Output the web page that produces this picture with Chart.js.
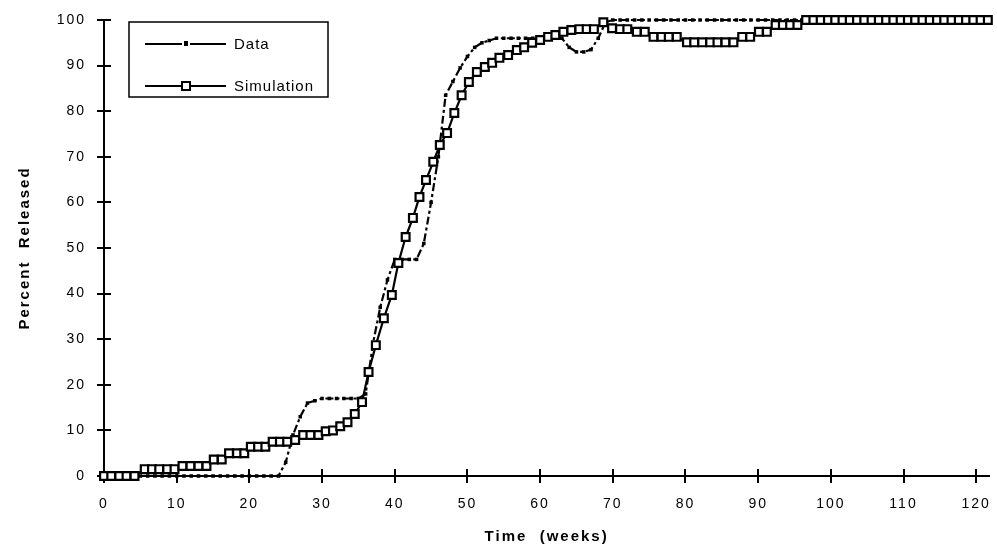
<!DOCTYPE html>
<html lang="en">
<head>
<meta charset="UTF-8">
<title>Percent Released</title>
<script src="https://cdn.jsdelivr.net/npm/chart.js"></script>
<style>
  html, body { margin: 0; padding: 0; background: #fff; }
</style>
</head>
<body>
<canvas id="myChart" width="997" height="548"></canvas>

<script>
// Simulation (squares), time in weeks / percent released
const simWeeks = [0, 1, 2.1, 3.1, 4.2, 5.6, 6.6, 7.6, 8.7, 9.7, 10.8, 11.9, 13, 14.1, 15.1, 16.2,
  17.2, 18.3, 19.3, 20.2, 21.2, 22.2, 23.2, 24.2, 25.2, 26.3, 27.4, 28.4, 29.5, 30.5, 31.5,
  32.5, 33.5, 34.5, 35.5, 36.4, 37.4, 38.5, 39.6, 40.5, 41.5, 42.5, 43.4, 44.3, 45.3, 46.2,
  47.2, 48.2, 49.2, 50.2, 51.3, 52.4, 53.4, 54.4, 55.6, 56.8, 57.8, 58.9, 60, 61.1, 62.1,
  63.2, 64.3, 65.4, 66.4, 67.4, 68.7, 69.9, 71, 72, 73.3, 74.4, 75.6, 76.7, 77.7, 78.8,
  80.2, 81.2, 82.3, 83.4, 84.4, 85.5, 86.6, 87.8, 88.9, 90.1, 91.2, 92.4, 93.4, 94.4, 95.4,
  96.6, 97.6, 98.6, 99.6, 100.6, 101.6, 102.6, 103.6, 104.6, 105.6, 106.6, 107.6, 108.6,
  109.6, 110.6, 111.6, 112.6, 113.6, 114.6, 115.6, 116.6, 117.6, 118.6, 119.6, 120.6, 121.6];
const simValues = [0, 0, 0, 0, 0, 1.5, 1.5, 1.5, 1.5, 1.5, 2.2, 2.2, 2.2, 2.2, 3.6, 3.6,
  5, 5, 5, 6.4, 6.4, 6.4, 7.5, 7.5, 7.5, 7.9, 9, 9, 9, 9.8, 10,
  10.9, 11.8, 13.6, 16.2, 22.8, 28.7, 34.6, 39.7, 46.7, 52.4, 56.6, 61.2, 64.9, 68.9, 72.6,
  75.2, 79.6, 83.5, 86.4, 88.6, 89.7, 90.6, 91.7, 92.3, 93.4, 94, 95, 95.6, 96.3, 96.7,
  97.4, 97.8, 98, 98, 98, 99.5, 98.2, 98, 98, 97.4, 97.4, 96.3, 96.3, 96.3, 96.3,
  95.1, 95.1, 95.1, 95.1, 95.1, 95.1, 95.1, 96.3, 96.3, 97.4, 97.4, 98.9, 98.9, 98.9, 98.9,
  100, 100, 100, 100, 100, 100, 100, 100, 100, 100, 100, 100, 100,
  100, 100, 100, 100, 100, 100, 100, 100, 100, 100, 100, 100, 100];

// Measured data (dash-dot line)
const dataWeeks = [0, 1, 2, 3, 4, 5, 6, 7, 8, 9, 10, 11, 12, 13, 14, 15, 16, 17, 18, 19, 20,
  21, 22, 23, 24, 25, 26, 27, 28, 29, 30, 31, 32, 33, 34, 35, 36, 37, 38, 39, 40,
  41, 42, 43, 44, 45, 46, 47, 48, 49, 50, 51, 52, 53, 54, 55, 56, 57, 58, 59, 60,
  61, 62, 63, 64, 65, 66, 67, 68, 69, 70, 71, 72, 73, 74, 75, 76, 77, 78, 79, 80,
  81, 82, 83, 84, 85, 86, 87, 88, 89, 90, 91, 92, 93, 94, 95, 96, 97, 98, 99, 100,
  101, 102, 103, 104, 105, 106, 107, 108, 109, 110, 111, 112, 113, 114, 115, 116, 117, 118, 119, 120, 121];
const dataValues = [0, 0, 0, 0, 0, 0, 0, 0, 0, 0, 0, 0, 0, 0, 0, 0, 0, 0, 0, 0, 0,
  0, 0, 0, 0, 3, 9, 13, 16, 16.5, 17, 17, 17, 17, 17, 17, 18, 29, 37, 43, 47.5,
  47.5, 47.5, 47.5, 51, 60, 70, 83.5, 86.5, 89.5, 92, 94, 95, 95.5, 96, 96, 96, 96, 96, 96, 96,
  96, 96, 96, 94, 93, 93, 93.5, 96, 99.5, 100, 100, 100, 100, 100, 100, 100, 100, 100, 100, 100,
  100, 100, 100, 100, 100, 100, 100, 100, 100, 100, 100, 100, 100, 100, 100, 100, 100, 100, 100, 100,
  100, 100, 100, 100, 100, 100, 100, 100, 100, 100, 100, 100, 100, 100, 100, 100, 100, 100, 100, 100, 100];

// tick labels on the two axes
const xTicks = [0, 10, 20, 30, 40, 50, 60, 70, 80, 90, 100, 110, 120];
const yTicks = [0, 10, 20, 30, 40, 50, 60, 70, 80, 90, 100];

const xMax = 121.8;
const fonte = "'Liberation Sans', Arial, sans-serif";

function pares(xs, ys) {
  let lista = [];
  for (let i = 0; i < xs.length; i++) {
    lista.push({ x: xs[i], y: ys[i] });
  }
  return lista;
}

// letter spacing for the axis text, cross ticks on both axes
const eixos = {
  id: 'eixos',
  beforeDraw(chart) {
    chart.ctx.letterSpacing = '2px';
  },
  beforeDatasetsDraw(chart) {
    const ctx = chart.ctx;
    const area = chart.chartArea;
    const x = chart.scales.x;
    const y = chart.scales.y;
    ctx.letterSpacing = '0px';
    ctx.save();
    ctx.strokeStyle = '#000';
    ctx.lineWidth = 2;
    y.ticks.forEach(function (t) {
      const py = Math.round(y.getPixelForValue(t.value));
      ctx.beginPath();
      ctx.moveTo(area.left - 7, py);
      ctx.lineTo(area.left + 7, py);
      ctx.stroke();
    });
    x.ticks.forEach(function (t) {
      const px = Math.round(x.getPixelForValue(t.value));
      ctx.beginPath();
      ctx.moveTo(px, area.bottom - 7);
      ctx.lineTo(px, area.bottom + 7);
      ctx.stroke();
    });
    ctx.restore();
  }
};

// boxed legend in the upper left corner
const legenda = {
  id: 'legenda',
  afterDraw(chart) {
    const ctx = chart.ctx;
    ctx.save();
    ctx.letterSpacing = '1px';
    ctx.strokeStyle = '#000';
    ctx.lineWidth = 1.5;
    ctx.strokeRect(129, 22, 199, 75);

    // Data sample
    ctx.lineWidth = 2;
    ctx.beginPath();
    ctx.moveTo(145, 44); ctx.lineTo(182, 44);
    ctx.moveTo(190, 44); ctx.lineTo(226, 44);
    ctx.stroke();
    ctx.fillStyle = '#000';
    ctx.fillRect(184, 41, 4, 5);

    // Simulation sample
    ctx.lineWidth = 2;
    ctx.beginPath();
    ctx.moveTo(145, 86); ctx.lineTo(226, 86);
    ctx.stroke();
    ctx.fillStyle = '#fff';
    ctx.fillRect(182, 82, 8, 8);
    ctx.strokeRect(182, 82, 8, 8);

    ctx.fillStyle = '#000';
    ctx.font = '15px ' + fonte;
    ctx.textBaseline = 'middle';
    ctx.fillText('Data', 234, 45);
    ctx.fillText('Simulation', 234, 87);
    ctx.restore();
  }
};

const dados = {
  datasets: [{
    label: 'Data',
    data: pares(dataWeeks, dataValues),
    borderColor: '#000',
    backgroundColor: '#000',
    borderWidth: 2.2,
    borderDash: [8, 3, 3, 3],
    pointStyle: 'rect',
    pointRadius: 2.5,
    pointBorderWidth: 0,
    pointBackgroundColor: '#000',
    tension: 0,
    clip: false,
    order: 2
  }, {
    label: 'Simulation',
    data: pares(simWeeks, simValues),
    borderColor: '#000',
    backgroundColor: '#fff',
    borderWidth: 2.2,
    pointStyle: 'rect',
    pointRadius: 5.5,
    pointBorderWidth: 2.2,
    pointBackgroundColor: '#fff',
    pointBorderColor: '#000',
    tension: 0,
    clip: false,
    order: 1
  }]
};

const config = {
  type: 'line',
  data: dados,
  options: {
    responsive: false,
    animation: false,
    devicePixelRatio: 1,
    layout: { padding: { top: 20, right: 0, bottom: 0, left: 0 } },
    plugins: {
      legend: { display: false },
      tooltip: { enabled: false }
    },
    scales: {
      x: {
        type: 'linear',
        min: 0,
        max: xMax,
        grid: { display: false, drawTicks: false },
        border: { display: true, color: '#000', width: 2 },
        ticks: { padding: 20, color: '#000', maxRotation: 0, autoSkip: false, font: { family: fonte, size: 14 } },
        title: { display: true, text: 'Time  (weeks)', color: '#000', padding: { top: 0, bottom: 2 },
          font: { family: fonte, size: 15, weight: 'bold' } },
        afterBuildTicks: function (s) {
          s.ticks = xTicks.map(function (v) { return { value: v }; });
        },
        afterFit: function (s) { s.height = 72; s.paddingLeft = 0; s.paddingRight = 0; }
      },
      y: {
        min: 0,
        max: 100,
        grid: { display: false, drawTicks: false },
        border: { display: true, color: '#000', width: 2 },
        ticks: { padding: 18, color: '#000', autoSkip: false, font: { family: fonte, size: 14 } },
        title: { display: true, text: 'Percent  Released', color: '#000', padding: { top: 16, bottom: 0 },
          font: { family: fonte, size: 15, weight: 'bold' } },
        afterBuildTicks: function (s) {
          s.ticks = yTicks.map(function (v) { return { value: v }; });
        },
        afterFit: function (s) { s.width = 104; s.paddingTop = 0; s.paddingBottom = 0; }
      }
    }
  },
  plugins: [eixos, legenda]
};

let myChart = new Chart(document.getElementById('myChart'), config);
</script>
</body>
</html>
